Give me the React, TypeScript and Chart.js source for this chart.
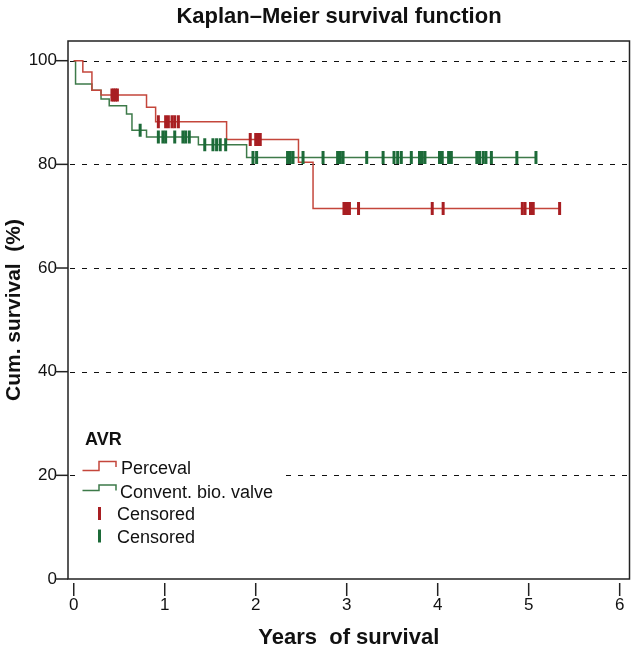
import React, { useEffect, useRef } from 'react';
import { Chart, registerables } from 'chart.js';

Chart.register(...registerables);

const TITLE = 'Kaplan–Meier survival function';
const X_TITLE = 'Years  of survival';
const Y_TITLE = 'Cum. survival  (%)';
const LEGEND_TITLE = 'AVR';
const SERIES_NAMES = ['Perceval', 'Convent. bio. valve'];
const CENSOR_LABEL = 'Censored';

const xTickValues = [0, 1, 2, 3, 4, 5, 6];
const yTickValues = [0, 20, 40, 60, 80, 100];
const dashedLineValues = [20, 40, 60, 80, 100];

// Perceval: event times (years) and survival (%) after each event
const percevalTimes = [0, 0.1, 0.2, 0.3, 0.8, 0.9, 1.68, 2.47, 2.63, 5.34];
const percevalSurvival = [100, 97.8, 94.3, 93.4, 91.0, 88.2, 84.8, 80.4, 71.5, 71.5];
const percevalCensored = [
  0.42, 0.44, 0.46, 0.48, 0.93, 1.01, 1.04, 1.08, 1.11, 1.15, 1.94, 2.0, 2.03, 2.05,
  2.97, 2.99, 3.01, 3.03, 3.13, 3.94, 4.06, 4.93, 4.96, 5.02, 5.05, 5.34,
];

// Conventional biological valve
const conventTimes = [0, 0.02, 0.2, 0.3, 0.39, 0.58, 0.64, 0.8, 1.37, 1.9, 5.08];
const conventSurvival = [100, 95.5, 94.3, 92.6, 91.3, 89.7, 86.6, 85.3, 83.8, 81.3, 81.3];
const conventCensored = [
  0.73, 0.93, 0.98, 1.01, 1.11, 1.2, 1.23, 1.27, 1.44, 1.53, 1.57, 1.61, 1.67, 1.97, 2.01,
  2.35, 2.38, 2.41, 2.52, 2.74, 2.9, 2.93, 2.96, 3.22, 3.4, 3.52, 3.56, 3.6, 3.71, 3.8,
  3.83, 3.86, 4.02, 4.05, 4.12, 4.15, 4.43, 4.46, 4.5, 4.53, 4.59, 4.87, 5.08,
];

const RED_LINE = '#c4463b';
const RED_MARK = '#a81e22';
const GREEN_LINE = '#3d7a49';
const GREEN_MARK = '#1c6a38';
const FONT = '"Liberation Sans", Arial, Helvetica, sans-serif';
const PLOT_RIGHT = 629.5;

function levelAt(times: number[], surv: number[], t: number): number {
  let v = surv[0];
  for (let i = 0; i < times.length; i++) {
    if (times[i] <= t) v = surv[i];
  }
  return v;
}

const toPoints = (times: number[], surv: number[]) => times.map((t, i) => ({ x: t, y: surv[i] }));
const censorPoints = (c: number[], times: number[], surv: number[]) =>
  c.map((t) => ({ x: t, y: levelAt(times, surv, t) }));

const decorPlugin = {
  id: 'kmDecor',
  afterLayout(chart: any) {
    const a = chart.chartArea;
    const x = chart.scales.x;
    a.right = PLOT_RIGHT;
    a.width = a.right - a.left;
    x.right = PLOT_RIGHT;
    x.width = x.right - x.left;
    x.configure();
  },
  beforeDatasetsDraw(chart: any) {
    const { ctx, chartArea: a, scales } = chart;
    const x = scales.x;
    const y = scales.y;
    ctx.save();
    ctx.strokeStyle = '#111';
    ctx.lineWidth = 1;
    ctx.setLineDash([5, 7]);
    dashedLineValues.forEach((v) => {
      const py = Math.round(y.getPixelForValue(v)) + 0.5;
      ctx.beginPath();
      ctx.moveTo(a.left + 2, py);
      ctx.lineTo(a.right, py);
      ctx.stroke();
    });
    ctx.setLineDash([]);
    ctx.strokeStyle = '#222';
    ctx.lineWidth = 1.5;
    yTickValues.forEach((v) => {
      const py = y.getPixelForValue(v);
      ctx.beginPath();
      ctx.moveTo(a.left - 13, py);
      ctx.lineTo(a.left, py);
      ctx.stroke();
    });
    xTickValues.forEach((v) => {
      const px = x.getPixelForValue(v);
      ctx.beginPath();
      ctx.moveTo(px, a.bottom + 4);
      ctx.lineTo(px, a.bottom + 17);
      ctx.stroke();
    });
    ctx.strokeRect(a.left, a.top, a.right - a.left, a.bottom - a.top);
    ctx.restore();
  },
  afterDatasetsDraw(chart: any) {
    const { ctx } = chart;
    ctx.save();
    ctx.fillStyle = '#111';
    ctx.font = `bold 22px ${FONT}`;
    ctx.textAlign = 'center';
    ctx.textBaseline = 'alphabetic';
    ctx.fillText(TITLE, 339, 23);

    ctx.fillStyle = '#fff';
    ctx.fillRect(76, 425, 205, 126);
    ctx.fillStyle = '#111';
    ctx.textAlign = 'left';
    ctx.font = `bold 18px ${FONT}`;
    ctx.fillText(LEGEND_TITLE, 85, 445);
    ctx.font = `18px ${FONT}`;

    const stepSymbol = (color: string, yLow: number, yHigh: number, yEnd: number) => {
      ctx.strokeStyle = color;
      ctx.lineWidth = 1.5;
      ctx.beginPath();
      ctx.moveTo(82.5, yLow);
      ctx.lineTo(99, yLow);
      ctx.lineTo(99, yHigh);
      ctx.lineTo(116, yHigh);
      ctx.lineTo(116, yEnd);
      ctx.stroke();
    };
    stepSymbol(RED_LINE, 470.5, 461.5, 467);
    ctx.fillText(SERIES_NAMES[0], 121, 474);
    stepSymbol(GREEN_LINE, 490.5, 485, 490.5);
    ctx.fillText(SERIES_NAMES[1], 120, 497.5);

    const bar = (color: string, cy: number) => {
      ctx.strokeStyle = color;
      ctx.lineWidth = 3;
      ctx.beginPath();
      ctx.moveTo(99.5, cy - 6.5);
      ctx.lineTo(99.5, cy + 6.5);
      ctx.stroke();
    };
    bar(RED_MARK, 513.5);
    ctx.fillText(CENSOR_LABEL, 117, 520);
    bar(GREEN_MARK, 536);
    ctx.fillText(CENSOR_LABEL, 117, 542.5);
    ctx.restore();
  },
};

export default function App() {
  const canvasRef = useRef<HTMLCanvasElement | null>(null);

  useEffect(() => {
    if (!canvasRef.current) return;
    const chart = new Chart(canvasRef.current, {
      type: 'line',
      data: {
        datasets: [
          {
            label: SERIES_NAMES[0] + ' ' + CENSOR_LABEL,
            data: censorPoints(percevalCensored, percevalTimes, percevalSurvival),
            showLine: false,
            pointStyle: 'line',
            pointRotation: 90,
            pointRadius: 6.5,
            pointBorderWidth: 3,
            pointBorderColor: RED_MARK,
            borderColor: RED_MARK,
            order: 0,
          },
          {
            label: SERIES_NAMES[1] + ' ' + CENSOR_LABEL,
            data: censorPoints(conventCensored, conventTimes, conventSurvival),
            showLine: false,
            pointStyle: 'line',
            pointRotation: 90,
            pointRadius: 6.5,
            pointBorderWidth: 3,
            pointBorderColor: GREEN_MARK,
            borderColor: GREEN_MARK,
            order: 0,
          },
          {
            label: SERIES_NAMES[0],
            data: toPoints(percevalTimes, percevalSurvival),
            stepped: true,
            borderColor: RED_LINE,
            borderWidth: 1.5,
            pointRadius: 0,
            fill: false,
            order: 1,
          },
          {
            label: SERIES_NAMES[1],
            data: toPoints(conventTimes, conventSurvival),
            stepped: true,
            borderColor: GREEN_LINE,
            borderWidth: 1.5,
            pointRadius: 0,
            fill: false,
            order: 2,
          },
        ],
      },
      options: {
        responsive: false,
        animation: false,
        events: [],
        layout: { padding: { top: 41, right: 1.5, left: 0, bottom: 0 } },
        plugins: {
          legend: { display: false },
          tooltip: { enabled: false },
          title: { display: false },
        },
        scales: {
          x: {
            type: 'linear',
            min: -0.063,
            max: 6.108,
            grid: { display: false, drawTicks: false },
            border: { display: false },
            afterBuildTicks: (s: any) => {
              s.ticks = xTickValues.map((v) => ({ value: v }));
            },
            afterFit: (s: any) => {
              s.height = 72;
            },
            ticks: {
              padding: 16,
              maxRotation: 0,
              autoSkip: false,
              color: '#111',
              font: { family: FONT, size: 17 },
            },
            title: {
              display: true,
              text: X_TITLE,
              color: '#111',
              font: { family: FONT, size: 22, weight: 'bold' },
              padding: { top: 0, bottom: 0 },
            },
          },
          y: {
            type: 'linear',
            min: 0,
            max: 103.8,
            grid: { display: false, drawTicks: false },
            border: { display: false },
            afterBuildTicks: (s: any) => {
              s.ticks = yTickValues.map((v) => ({ value: v }));
            },
            afterFit: (s: any) => {
              s.width = 68;
              s.paddingTop = 0;
              s.paddingBottom = 0;
            },
            ticks: {
              padding: 11,
              autoSkip: false,
              color: '#111',
              font: { family: FONT, size: 17 },
            },
            title: {
              display: true,
              text: Y_TITLE,
              color: '#111',
              font: { family: FONT, size: 21, weight: 'bold' },
              padding: { top: 1.5, bottom: 0 },
            },
          },
        },
      },
      plugins: [decorPlugin],
    } as any);
    return () => chart.destroy();
  }, []);

  return (
    <div style={{ position: 'fixed', left: 0, top: 0, width: 631, height: 651, background: '#fff' }}>
      <canvas ref={canvasRef} width={631} height={651} style={{ display: 'block' }} />
    </div>
  );
}
